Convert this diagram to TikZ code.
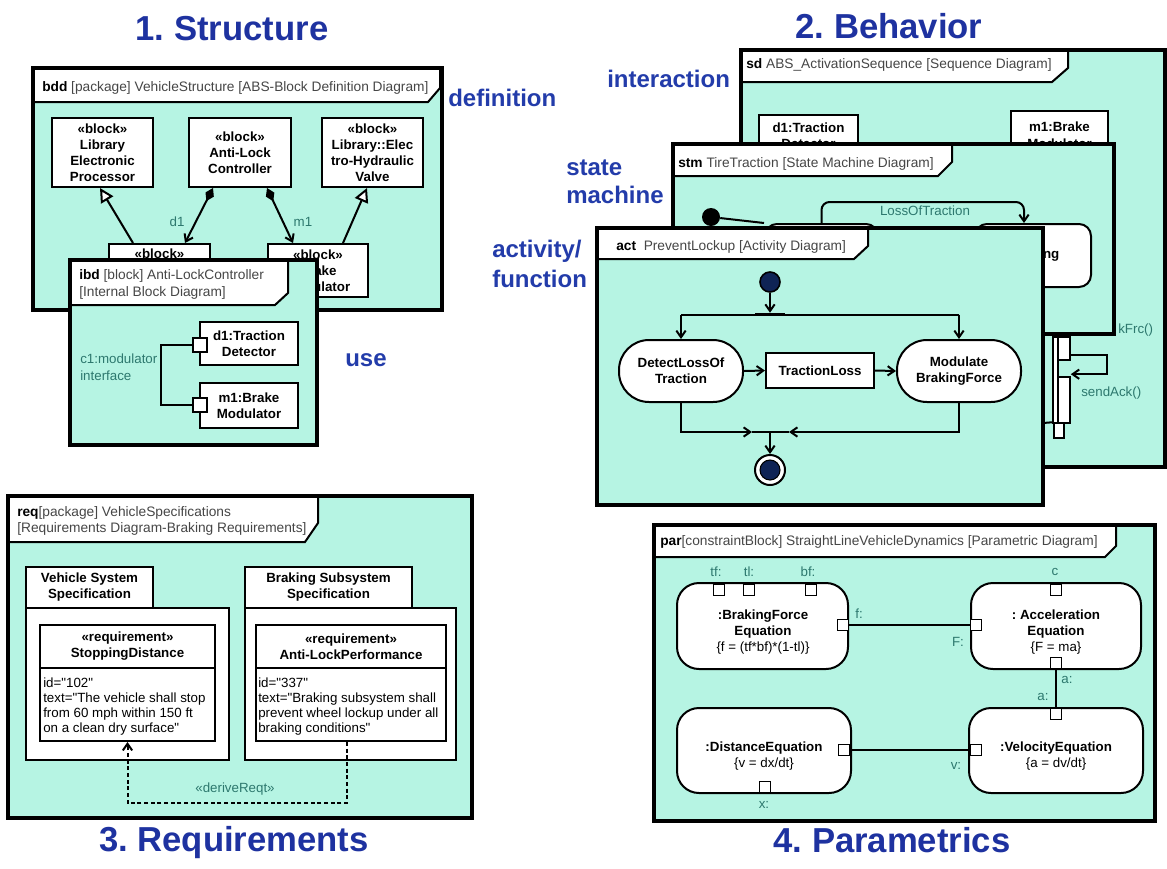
\documentclass[tikz,border=0pt]{standalone}
\usepackage{fontspec}
\setmainfont{Liberation Sans}
\usetikzlibrary{arrows.meta,calc}
\frenchspacing
\newlength\pxu \setlength\pxu{0.75pt}
\definecolor{teal1}{RGB}{182,244,227}
\definecolor{ttlc}{RGB}{30,50,160}
\definecolor{secc}{RGB}{35,60,170}
\definecolor{lblc}{RGB}{45,120,110}
\definecolor{hdtc}{RGB}{70,70,70}
\definecolor{navyc}{RGB}{15,35,85}
\newcommand\fttl{\fontsize{26}{30}\selectfont\bfseries}
\newcommand\fsec{\fontsize{18}{21}\selectfont\bfseries}
\newcommand\fhd{\fontsize{10.3}{12.75}\selectfont}
\newcommand\fbt{\fontsize{10}{12}\selectfont\bfseries}
\newcommand\fnt{\fontsize{10}{11.25}\selectfont}
\newcommand\kw[1]{\textcolor{black}{\bfseries #1}}
\newcommand\dq{\XeTeXglyph\the\XeTeXcharglyph"22\relax}
\tikzset{
 frmb/.style={draw=black, line width=2.4pt},
 hdr/.style={draw=black, line width=1.5pt, fill=white},
 hdt/.style={font=\fhd, text=hdtc, inner sep=0pt, anchor=base west},
 blk/.style={draw=black, line width=1.5pt, fill=white, inner sep=0pt, align=center, font=\fbt},
 actn/.style={blk, rounded corners=30\pxu},
 cb/.style={blk, rounded corners=22\pxu},
 stbox/.style={blk, rounded corners=12\pxu},
 bt/.style={font=\fbt, inner sep=0pt, align=center},
 nt/.style={font=\fnt, inner sep=0pt, align=left},
 lab/.style={font=\fnt, text=lblc, inner sep=0pt},
 con/.style={draw=black, line width=1.5pt},
 gen/.style={con, -{Triangle[open, length=10.5pt, width=10.5pt, fill=white]}},
 comp/.style={con, {Diamond[length=11pt, width=7pt]}-{Straight Barb[length=5pt, width=7pt]}},
 flow/.style={con, -{Straight Barb[length=5pt, width=7pt]}},
 der/.style={con, dash pattern=on 3pt off 2pt, -{Straight Barb[length=5pt, width=7pt]}},
 prt/.style={draw=black, line width=1.3pt, fill=white, inner sep=0pt},
 pp/.style={prt, minimum size=11\pxu},
 actbar/.style={draw=black, line width=1.2pt, fill=white, inner sep=0pt},
 ttl/.style={font=\fttl, text=ttlc, inner sep=0pt, anchor=base},
 sec/.style={font=\fsec, text=secc, inner sep=0pt, anchor=base west},
}
\begin{document}
\begin{tikzpicture}[x=0.75pt,y=-0.75pt]
\useasboundingbox (0,0) rectangle (1167,868);
\fill[white] (0,0) rectangle (1167,868);

% ---------- titles ----------
\node[ttl] (t1) at (232,40) {1. Structure};
\node[ttl] (t2) at (889,38) {2. Behavior};
\node[ttl] (t3) at (234,851) {3. Requirements};
\node[ttl] (t4) at (892,852) {4. Parametrics};

\node[sec] (ldef) at (448,106) {definition};
\node[sec] (luse) at (345,366) {use};
\node[sec] (lint) at (607,87) {interaction};
\node[sec] (lst1) at (566,175) {state};
\node[sec] (lst2) at (566,203) {machine};
\node[sec] (lac1) at (492,257) {activity/};
\node[sec] (lac2) at (492,287) {function};

% ---------- bdd ----------
\fill[teal1] (33,68) rectangle (442,310);
\draw[hdr] (33,68) -- (440,68) -- (440,88) -- (428,102) -- (33,102) -- cycle;
\draw[frmb] (33,68) rectangle (442,310);
\node[hdt] (bddh) at (42,91) {\kw{bdd} [package] VehicleStructure [ABS-Block Definition Diagram]};
\node[blk, minimum width=101\pxu, minimum height=69\pxu] (lep) at (102.5,152.5) {«block»\\Library\\Electronic\\Processor};
\node[blk, minimum width=102\pxu, minimum height=69\pxu] (alc) at (240,152.5) {«block»\\Anti-Lock\\Controller};
\node[blk, minimum width=101\pxu, minimum height=69\pxu] (ehv) at (372.5,152.5) {«block»\\Library::Elec\\tro-Hydraulic\\Valve};
\node[blk, minimum width=101\pxu, minimum height=53\pxu] (lowL) at (159.5,270.5) {};
\node[bt] (lowLt) at (159.5,254) {«block»};
\node[blk, minimum width=100\pxu, minimum height=53\pxu] (lowR) at (318,270.5) {«block»\\Brake\\Modulator};
\draw[gen] ([xshift=-26.5\pxu]lowL.north) -- ([xshift=-2.5\pxu]lep.south);
\draw[comp] ([xshift=-27\pxu]alc.south) -- ([xshift=25.5\pxu]lowL.north);
\draw[comp] ([xshift=27\pxu]alc.south) -- ([xshift=-25\pxu]lowR.north);
\draw[gen] ([xshift=25\pxu]lowR.north) -- ([xshift=-5.5\pxu]ehv.south);
\node[lab] (ld1) at (177,222) {d1};
\node[lab] (lm1) at (303,222) {m1};

% ---------- ibd ----------
\fill[teal1] (70,260) rectangle (317,445);
\draw[hdr] (70,260) -- (288,260) -- (288,293) -- (275,305) -- (70,305) -- cycle;
\draw[frmb] (70,260) rectangle (317,445);
\node[hdt] (ibdh1) at (79,279) {\kw{ibd} [block] Anti-LockController};
\node[hdt] (ibdh2) at (79,296) {[Internal Block Diagram]};
\node[blk, minimum width=98\pxu, minimum height=43\pxu] (dtd) at (249,343.5) {d1:Traction\\Detector};
\node[blk, minimum width=98\pxu, minimum height=45\pxu] (bmd) at (249,405.5) {m1:Brake\\Modulator};
\node[prt, minimum size=14\pxu] (p1) at (200,345) {};
\node[prt, minimum size=14\pxu] (p2) at (200,405) {};
\draw[con] (p1.west) -- ++(-31,0) |- (p2.west);
\node[lab, anchor=base west] (lc1a) at (80,363) {c1:modulator};
\node[lab, anchor=base west] (lc1b) at (80,380) {interface};

% ---------- sd ----------
\fill[teal1] (741,50) rectangle (1165,467);
\draw[hdr] (741,50) -- (1068,50) -- (1068,68) -- (1052,82) -- (741,82) -- cycle;
\draw[frmb] (741,50) rectangle (1165,467);
\node[hdt] (sdh) at (746,68) {\kw{sd} ABS\_ActivationSequence [Sequence Diagram]};
\node[blk, minimum width=99\pxu, minimum height=52\pxu, anchor=north] (lh1) at (808.5,114) {};
\node[bt, anchor=base] (lh1a) at (808.5,132) {d1:Traction};
\node[bt, anchor=base] (lh1b) at (808.5,148) {Detector};
\node[blk, minimum width=97\pxu, minimum height=56\pxu, anchor=north] (lh2) at (1059.5,110) {};
\node[bt, anchor=base] (lh2a) at (1059.5,131) {m1:Brake};
\node[bt, anchor=base] (lh2b) at (1059.5,148) {Modulator};
\node[actbar, minimum width=5\pxu, minimum height=86\pxu] (ba) at (1055.5,380) {};
\node[actbar, minimum width=12\pxu, minimum height=23\pxu] (bb) at (1064,348.5) {};
\node[actbar, minimum width=12\pxu, minimum height=46\pxu] (bc) at (1064,400) {};
\node[actbar, minimum width=10\pxu, minimum height=15\pxu] (bd) at (1059,430.5) {};
\coordinate (m3) at (1043,423);
\draw[con] (m3) -- (bd.north west);
\draw[flow] ([yshift=6\pxu]bb.south east) -- ++(36,0) |- ([yshift=2\pxu]bc.north east);
\node[lab, anchor=base west] (lsa) at (1081,396) {sendAck()};
\node[lab, anchor=base west] (lkf) at (1118,333) {kFrc()};

% ---------- stm ----------
\fill[teal1] (673,144) rectangle (1114,334);
\draw[hdr] (673,144) -- (952,144) -- (952,162) -- (938,176) -- (673,176) -- cycle;
\draw[frmb] (673,144) rectangle (1114,334);
\node[hdt] (stmh) at (678,167) {\kw{stm} TireTraction [State Machine Diagram]};
\node[stbox, minimum width=113\pxu, minimum height=68\pxu] (st1) at (821.5,258) {};
\node[stbox, minimum width=116\pxu, minimum height=63\pxu] (st2) at (1033,255.5) {Slipping};
\node[circle, fill=black, minimum size=18\pxu, inner sep=0pt] (ini0) at (711,217) {};
\draw[con] (ini0) -- (st1.north west);
\draw[flow, rounded corners=8\pxu] (st1.north) -- ++(0,-21) -| ([xshift=-9\pxu]st2.north);
\node[lab] (llot) at (925,211) {LossOfTraction};

% ---------- act ----------
\fill[teal1] (597,228) rectangle (1043,505);
\draw[hdr] (597,228) -- (868,228) -- (868,246) -- (854,259) -- (597,259) -- cycle;
\draw[frmb] (597,228) rectangle (1043,505);
\node[hdt] (acth) at (616,250) {\kw{act}\ \ PreventLockup [Activity Diagram]};
\node[circle, draw=black, line width=1.2pt, fill=navyc, minimum size=20\pxu, inner sep=0pt] (ini) at (770,282) {};
\node[fill=black, minimum width=30\pxu, minimum height=3\pxu, inner sep=0pt] (fork) at (770,314.5) {};
\node[actn, minimum width=124\pxu, minimum height=62\pxu] (dlt) at (681,371) {DetectLossOf\\Traction};
\node[blk, minimum width=108\pxu, minimum height=35\pxu] (tl) at (820,370.5) {TractionLoss};
\node[actn, minimum width=124\pxu, minimum height=62\pxu] (mbf) at (959,371) {Modulate\\BrakingForce};
\draw[flow] (ini) -- (fork);
\draw[con] (fork.center -| dlt.north) -- (fork.center -| mbf.north);
\draw[flow] (fork.center -| dlt.north) -- (dlt.north);
\draw[flow] (fork.center -| mbf.north) -- (mbf.north);
\draw[flow] (dlt.east) -- (tl.west);
\draw[flow] (tl.east) -- (mbf.west);
\coordinate (jn) at (770,432);
\draw[flow] (dlt.south) |- ([xshift=-18\pxu]jn);
\draw[flow] (mbf.south) |- ([xshift=19\pxu]jn);
\draw[con] ([xshift=-18\pxu]jn) -- ([xshift=19\pxu]jn);
\node[circle, draw=black, line width=1.5pt, fill=white, minimum size=30\pxu, inner sep=0pt] (fin) at (770,470) {};
\node[circle, draw=black, line width=0.8pt, fill=navyc, minimum size=20\pxu, inner sep=0pt] (fin2) at (fin) {};
\draw[flow] (jn) -- (fin);

% ---------- req ----------
\fill[teal1] (8,496) rectangle (472,818);
\draw[hdr] (8,496) -- (318,496) -- (318,523) -- (305,542) -- (8,542) -- cycle;
\draw[frmb] (8,496) rectangle (472,818);
\node[hdt] (reqh1) at (17,516) {\kw{req}[package] VehicleSpecifications};
\node[hdt] (reqh2) at (17,532) {[Requirements Diagram-Braking Requirements]};
\node[blk, minimum width=203\pxu, minimum height=152\pxu] (vssb) at (127.5,684) {};
\node[blk, minimum width=127\pxu, minimum height=41\pxu] (vsst) at (89.5,587.5) {Vehicle System\\Specification};
\node[blk, minimum width=175\pxu, minimum height=43\pxu] (rAh) at (127.5,646.5) {«requirement»\\StoppingDistance};
\node[blk, minimum width=175\pxu, minimum height=73\pxu] (rAb) at (127.5,704.5) {};
\node[nt, anchor=north west] (rAt) at (43,678) {id=\dq102\dq\\text=\dq The vehicle shall stop\\from 60 mph within 150 ft\\on a clean dry surface\dq};
\node[blk, minimum width=211\pxu, minimum height=152\pxu] (bssb) at (350.5,684) {};
\node[blk, minimum width=167\pxu, minimum height=41\pxu] (bsst) at (328.5,587.5) {Braking Subsystem\\Specification};
\node[blk, minimum width=190\pxu, minimum height=43\pxu] (rBh) at (351,646.5) {«requirement»\\Anti-LockPerformance};
\node[blk, minimum width=190\pxu, minimum height=73\pxu] (rBb) at (351,704.5) {};
\node[nt, anchor=north west] (rBt) at (258,678) {id=\dq337\dq\\text=\dq Braking subsystem shall\\prevent wheel lockup under all\\braking conditions\dq};
\draw[der] ([xshift=-4\pxu]rBb.south) -- ++(0,61) -| (rAb.south);
\node[lab] (ldr) at (235,789) {«deriveReqt»};

% ---------- par ----------
\fill[teal1] (654,525) rectangle (1155,821);
\draw[hdr] (654,525) -- (1116,525) -- (1116,546) -- (1105,557) -- (654,557) -- cycle;
\draw[frmb] (654,525) rectangle (1155,821);
\node[hdt] (parh) at (660,545) {\kw{par}[constraintBlock] StraightLineVehicleDynamics [Parametric Diagram]};
\node[cb, minimum width=171\pxu, minimum height=86\pxu] (bfe) at (762.5,626) {};
\node[bt] (bfet) at (763,632) {:BrakingForce\\Equation\\\textmd{\{f = (tf*bf)*(1-tl)\}}};
\node[cb, minimum width=170\pxu, minimum height=86\pxu] (ace) at (1056,626) {};
\node[bt] (acet) at (1056,632) {: Acceleration\\Equation\\\textmd{\{F = ma\}}};
\node[cb, minimum width=174\pxu, minimum height=85\pxu] (vee) at (1056,750.5) {};
\node[bt] (veet) at (1056,756) {:VelocityEquation\\\textmd{\{a = dv/dt\}}};
\node[cb, minimum width=174\pxu, minimum height=85\pxu] (dse) at (764,750.5) {};
\node[bt] (dset) at (764,756) {:DistanceEquation\\\textmd{\{v = dx/dt\}}};
\node[pp] (ptf) at (719,590) {};
\node[pp] (ptl) at (749,590) {};
\node[pp] (pbf) at (811,590) {};
\node[pp] (pf) at (843,625) {};
\node[pp] (pc) at (1056,590) {};
\node[pp] (pF) at (976,625) {};
\node[pp] (pa1) at (1056,663) {};
\node[pp] (pa2) at (1056,714) {};
\node[pp] (pv) at (976,750) {};
\node[pp] (pdv) at (844,750) {};
\node[pp] (px) at (765,787) {};
\draw[con] (pf) -- (pF);
\draw[con] (pa1) -- (pa2);
\draw[con] (pdv) -- (pv);
\node[lab] (ltf) at (716,572) {tf:};
\node[lab] (ltl) at (749,572) {tl:};
\node[lab] (lbf) at (808,572) {bf:};
\node[lab] (lf) at (859,614) {f:};
\node[lab] (lc) at (1055,572) {c};
\node[lab] (lF) at (958,642) {F:};
\node[lab] (la1) at (1067,680) {a:};
\node[lab] (la2) at (1043,697) {a:};
\node[lab] (lv) at (956,766) {v:};
\node[lab] (lx) at (764,805) {x:};
\end{tikzpicture}
\end{document}
